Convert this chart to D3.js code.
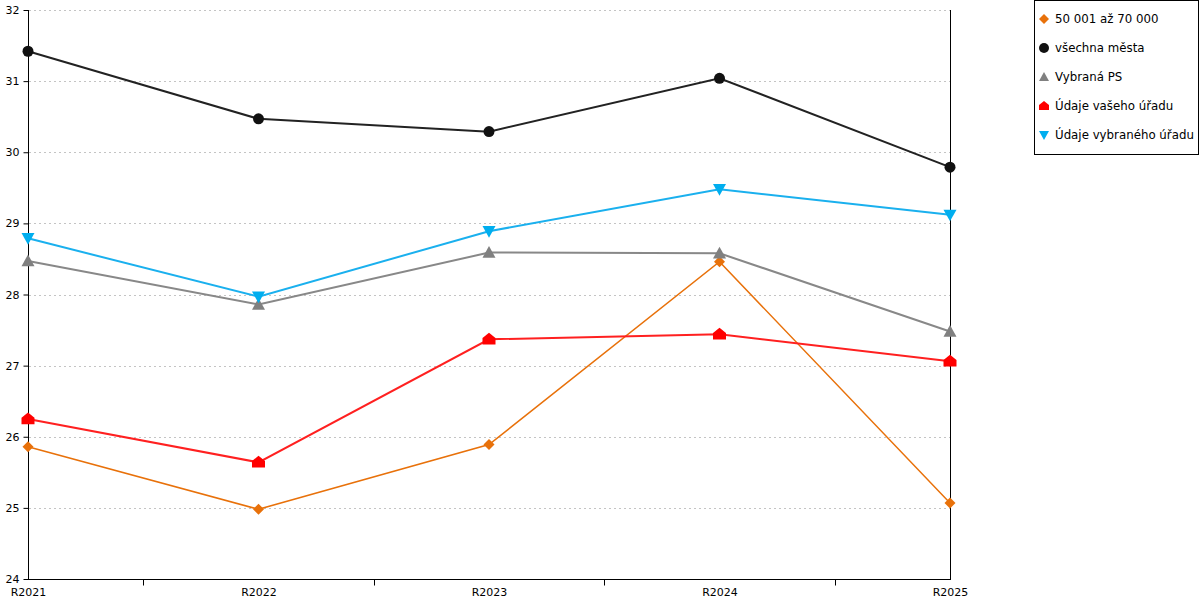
<!DOCTYPE html>
<html><head><meta charset="utf-8">
<script src="https://cdn.jsdelivr.net/npm/d3@7"></script>
<style>
html,body{margin:0;padding:0;background:#fff;}
svg{display:block;font-family:"DejaVu Sans",Verdana,sans-serif;}
</style></head>
<body>
<svg id="c" width="1200" height="600"></svg>
<script>
const categories = ["R2021","R2022","R2023","R2024","R2025"];
const yTicks = [24,25,26,27,28,29,30,31,32];
const seriesNames = ["50 001 až 70 000","všechna města","Vybraná PS","Údaje vašeho úřadu","Údaje vybraného úřadu"];
const valsOrange = [25.86, 24.98, 25.89, 28.46, 25.07];
const valsBlack  = [31.42, 30.47, 30.29, 31.04, 29.79];
const valsGray   = [28.47, 27.86, 28.59, 28.58, 27.48];
const valsRed    = [26.25, 25.64, 27.37, 27.44, 27.06];
const valsCyan   = [28.79, 27.97, 28.89, 29.48, 29.12];

const colors = ["#E8710A","#111111","#808080","#FF0000","#00AEEF"];
const lineColors = ["#E8710A","#222222","#888888","#FF2020","#1AB0EE"];
const lineWidths = [1.5,2,2,2,2];
const shapes = ["diamond","circle","up","house","down"];
const allVals = [valsOrange, valsBlack, valsGray, valsRed, valsCyan];

(function(){
const svg = d3.select("#c");
const pL = 28, pR = 950, pT = 10, pB = 579;
const x = d3.scalePoint().domain(categories).range([pL,pR]);
const y = d3.scaleLinear().domain([24,32]).range([pB,pT]);

// grid
svg.append("g").selectAll("line").data(yTicks.filter(d=>d>24)).join("line")
  .attr("x1",pL+1).attr("x2",pR)
  .attr("y1",d=>Math.round(y(d))+0.5).attr("y2",d=>Math.round(y(d))+0.5)
  .attr("stroke","#c4c4c4").attr("stroke-dasharray","2,3").attr("stroke-width",1);

// right border
svg.append("line").attr("x1",pR+0.5).attr("x2",pR+0.5).attr("y1",pT).attr("y2",pB+1)
  .attr("stroke","#000").attr("stroke-width",1);

// y axis
const yAxis = d3.axisLeft(y).tickValues(yTicks).tickSize(5).tickPadding(4).tickFormat(d3.format("d"));
const gy = svg.append("g").attr("transform",`translate(${pL+0.5},0)`).call(yAxis);
gy.select(".domain").attr("d",`M0,${pT}V${pB+1}`);
gy.selectAll("text").attr("font-size",11).attr("fill","#000").style("font-family","DejaVu Sans, Verdana, sans-serif");

// x axis
const xAxis = d3.axisBottom(x).tickSize(0).tickPadding(10);
const gx = svg.append("g").attr("transform",`translate(0,${pB+0.5})`).call(xAxis);
gx.select(".domain").attr("d",`M${pL},0H${pR+1}`);
gx.selectAll("text").attr("font-size",11).attr("fill","#000").attr("dy","0.71em").attr("y",9).style("font-family","DejaVu Sans, Verdana, sans-serif");
const tickPos = [];
for(let i=0;i<categories.length-1;i++){
  tickPos.push((x(categories[i])+x(categories[i+1]))/2);
}
gx.append("g").selectAll("line").data(tickPos).join("line")
  .attr("x1",d=>Math.round(d)+0.5).attr("x2",d=>Math.round(d)+0.5)
  .attr("y1",0).attr("y2",6).attr("stroke","#000");

function symbolPath(shape, s){
  if(shape==="diamond") return `M0,${-s}L${s},0L0,${s}L${-s},0Z`;
  if(shape==="circle") return d3.symbol(d3.symbolCircle, Math.PI*s*s)();
  if(shape==="up") return `M0,${-s}L${s},${s*0.8}L${-s},${s*0.8}Z`;
  if(shape==="down") return `M0,${s}L${s},${-s*0.8}L${-s},${-s*0.8}Z`;
  if(shape==="house") return `M0,${-s}L${s},${-s*0.2}L${s},${s*0.8}L${-s},${s*0.8}L${-s},${-s*0.2}Z`;
}
const symSize = [5.5,5.5,6.5,6.5,6.5];

const line = d3.line().x((d,i)=>x(categories[i])).y(d=>y(d));
const order = [0,1,2,3,4];
order.forEach(k=>{
  svg.append("path").attr("d",line(allVals[k])).attr("fill","none")
    .attr("stroke",lineColors[k]).attr("stroke-width",lineWidths[k]);
});
order.forEach(k=>{
  svg.append("g").selectAll("path").data(allVals[k]).join("path")
    .attr("transform",(d,i)=>`translate(${x(categories[i])},${y(d)})`)
    .attr("d",symbolPath(shapes[k],symSize[k])).attr("fill",colors[k]);
});

// legend
const lg = svg.append("g");
lg.append("rect").attr("x",1034.5).attr("y",0.5).attr("width",164).attr("height",154)
  .attr("fill","#fff").attr("stroke","#000");
seriesNames.forEach((n,k)=>{
  const cy = 19 + k*29;
  lg.append("path").attr("transform",`translate(1044,${cy})`).attr("d",symbolPath(shapes[k],5)).attr("fill",colors[k]);
  lg.append("text").attr("x",1055).attr("y",cy).attr("dy","0.35em").attr("font-size",11.8).attr("fill","#000").text(n);
});
})();
</script>
</body></html>
